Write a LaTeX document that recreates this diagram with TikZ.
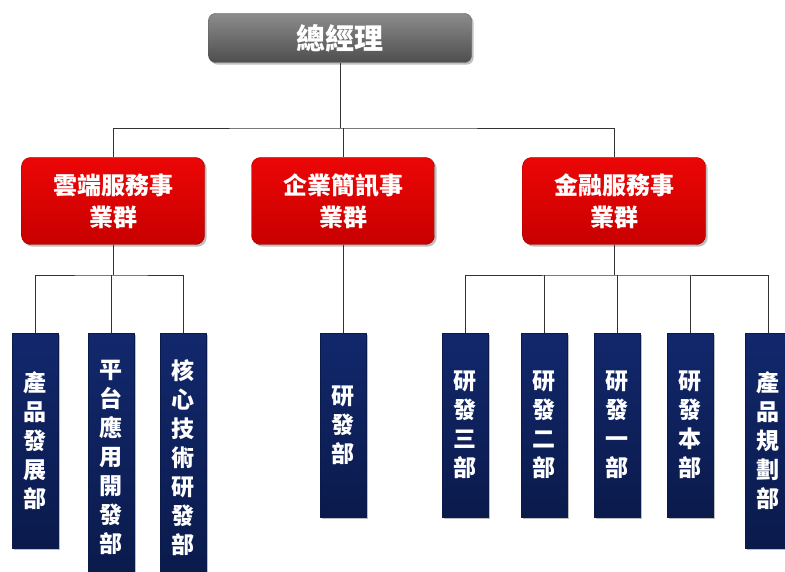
\documentclass[tikz,border=0pt]{standalone}
\usepackage{fontspec}
\newfontfamily\cjk{Noto Sans CJK TC}
\usetikzlibrary{shadows}
\definecolor{gmtop}{RGB}{140,140,140}
\definecolor{gmbot}{RGB}{78,78,78}
\definecolor{bgred}{RGB}{236,6,6}
\definecolor{bgredd}{RGB}{200,0,0}
\definecolor{dpblue}{RGB}{18,40,108}
\definecolor{dpblued}{RGB}{10,26,75}

\begin{document}
\begin{tikzpicture}[x=1pt,y=-1pt,
  gmbox/.style={rounded corners=7pt,top color=gmtop,bottom color=gmbot,draw=gray!70!black,
    minimum width=263pt,minimum height=49pt,text=white,drop shadow,
    font=\cjk\bfseries\fontsize{29}{32}\selectfont},
  grpbox/.style={rounded corners=9pt,top color=bgred,bottom color=bgredd,draw=bgredd!80!black,
    minimum width=183pt,minimum height=87pt,text=white,align=center,drop shadow,
    font=\cjk\bfseries\fontsize{24}{32}\selectfont},
  depbox/.style={anchor=north,top color=dpblue,bottom color=dpblued,draw=dpblued,
    minimum width=46pt,inner sep=0pt,text=white,align=center,drop shadow,
    font=\cjk\bfseries\fontsize{23}{29}\selectfont},
  conn/.style={line width=0.8pt,draw=black!80}]
\useasboundingbox (0,0) rectangle (785,572);

\node (gm) [gmbox] at (340,38) {總經理};

\node (cloud) [grpbox] at (113,201) {雲端服務事\\業群};
\node (ent) [grpbox] at (343,201) {企業簡訊事\\業群};
\node (fin) [grpbox] at (614,201) {金融服務事\\業群};

% departments
\node (d1) [depbox,minimum height=215pt] at (35,333) {產\\品\\發\\展\\部};
\node (d2) [depbox,minimum height=248pt] at (111,333) {平\\台\\應\\用\\開\\發\\部};
\node (d3) [depbox,minimum height=248pt] at (183,333) {核\\心\\技\\術\\研\\發\\部};
\node (m1) [depbox,minimum height=184pt] at (343,333) {研\\發\\部};
\node (r1) [depbox,minimum height=184pt] at (465,333) {研\\發\\三\\部};
\node (r2) [depbox,minimum height=184pt] at (544,333) {研\\發\\二\\部};
\node (r3) [depbox,minimum height=184pt] at (617,333) {研\\發\\一\\部};
\node (r4) [depbox,minimum height=184pt] at (690,333) {研\\發\\本\\部};
\node (r5) [depbox,minimum height=215pt] at (768,333) {產\\品\\規\\劃\\部};

\coordinate (busA) at (343,128);
\coordinate (busB) at (113,275);
\coordinate (busC) at (617,275);

\draw[conn] (gm.south) -- (gm.south |- busA);
\draw[conn] (cloud.north) |- (busA) -| (fin.north);
\draw[conn] (busA) -- (ent.north);
\draw[conn] (cloud.south) -- (busB);
\draw[conn] (d1.north) |- (busB) -| (d3.north);
\draw[conn] (busB -| d2.north) -- (d2.north);
\draw[conn] (ent.south) -- (m1.north);
\draw[conn] (fin.south) -- (fin.south |- busC);
\draw[conn] (r1.north) |- (busC) -| (r5.north);
\draw[conn] (r2.north) -- (r2.north |- busC);
\draw[conn] (busC) -- (r3.north);
\draw[conn] (r4.north) -- (r4.north |- busC);
\end{tikzpicture}
\end{document}
